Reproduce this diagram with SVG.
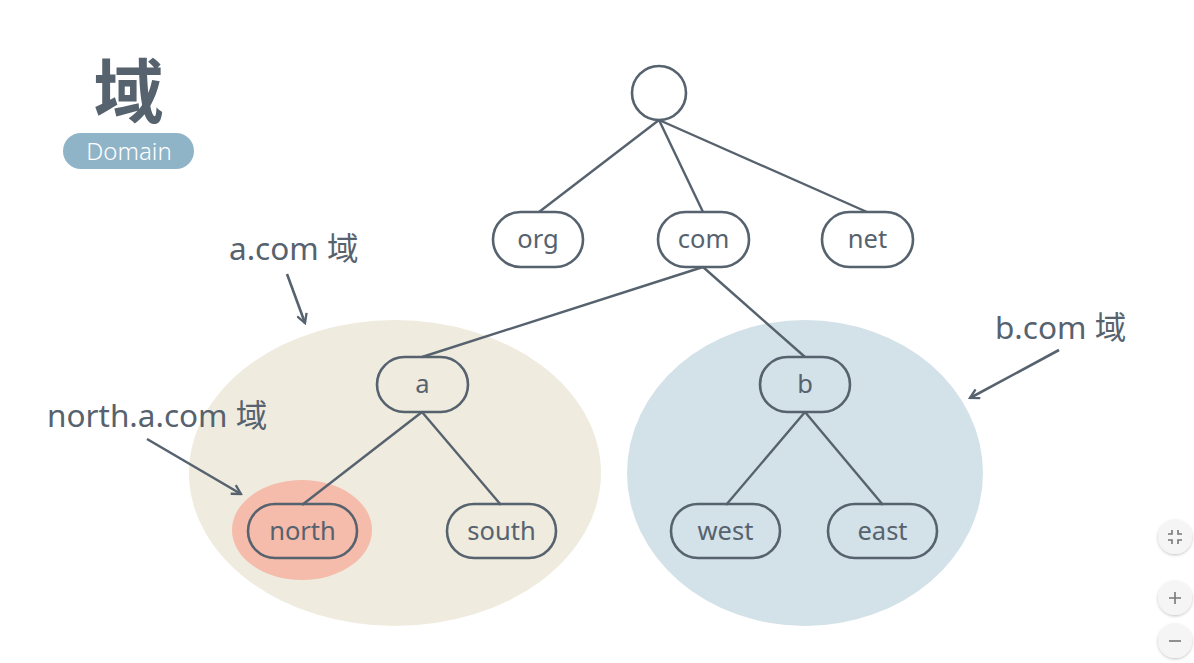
<svg xmlns="http://www.w3.org/2000/svg" width="1194" height="663" viewBox="0 0 1194 663">
  <defs>
    <style>
      .node { fill: none; stroke: #56626e; stroke-width: 2.6; }
      .lbl { font-family: "Noto Sans", "Noto Sans CJK SC", sans-serif; font-size: 25.5px; fill: #56626e; text-anchor: middle; }
      .note { font-family: "Noto Sans", "Noto Sans CJK SC", sans-serif; font-size: 31.5px; fill: #56626e; }
      .edge { stroke: #56626e; stroke-width: 2.4; fill: none; }
      .arrow { stroke: #56626e; stroke-width: 2.6; fill: none; marker-end: url(#vhead); }
      .btn { fill: #f5f5f5; filter: url(#sh); }
      .ico { stroke: #777; stroke-width: 1.6; fill: none; }
    </style>
    <marker id="vhead" viewBox="0 0 12 12" refX="10" refY="6" markerWidth="12" markerHeight="12" markerUnits="userSpaceOnUse" orient="auto">
      <polyline points="1,1 10,6 1,11" fill="none" stroke="#56626e" stroke-width="2.3"/>
    </marker>
    <filter id="sh" x="-50%" y="-50%" width="200%" height="200%">
      <feDropShadow dx="0" dy="1" stdDeviation="1.5" flood-color="#000" flood-opacity="0.25"/>
    </filter>
  </defs>
  <rect width="1194" height="663" fill="#ffffff"/>

  <g id="title">
    <text x="128.5" y="118" font-family="Noto Sans CJK SC, sans-serif" font-size="70" font-weight="bold" fill="#56626e" text-anchor="middle">域</text>
    <rect x="63" y="133" width="131" height="36" rx="18" fill="#8fb3c7"/>
    <text x="129" y="160" font-family="Noto Sans, sans-serif" font-size="24" font-weight="300" fill="#ffffff" text-anchor="middle">Domain</text>
  </g>

  <g id="regions">
    <ellipse id="region-a" cx="395" cy="473" rx="206" ry="153" fill="#efebdf"/>
    <ellipse id="region-b" cx="805" cy="473" rx="178" ry="153" fill="#d3e1e8"/>
    <ellipse id="region-north" cx="302" cy="530" rx="70" ry="50" fill="#f5bbab"/>
  </g>

  <g id="connectors">
    <line class="edge" x1="659" y1="120" x2="539" y2="212"/>
    <line class="edge" x1="659" y1="120" x2="703" y2="212"/>
    <line class="edge" x1="659" y1="120" x2="867" y2="212"/>
    <line class="edge" x1="703" y1="267" x2="422" y2="357"/>
    <line class="edge" x1="703" y1="267" x2="805" y2="357"/>
    <line class="edge" x1="422" y1="412" x2="302" y2="505"/>
    <line class="edge" x1="422" y1="412" x2="501" y2="505"/>
    <line class="edge" x1="805" y1="412" x2="726" y2="505"/>
    <line class="edge" x1="805" y1="412" x2="883" y2="505"/>
    <line class="arrow" x1="287" y1="274" x2="305" y2="323"/>
    <line class="arrow" x1="1059" y1="350" x2="970" y2="398"/>
    <line class="arrow" x1="147" y1="439" x2="241" y2="494"/>
  </g>

  <g id="root"><circle class="node" cx="659" cy="93" r="27"/></g>
  <g id="org"><rect class="node" x="493" y="212" width="90" height="55" rx="27.5"/><text class="lbl" x="538" y="248">org</text></g>
  <g id="com"><rect class="node" x="658" y="212" width="91" height="55" rx="27.5"/><text class="lbl" x="703.5" y="248">com</text></g>
  <g id="net"><rect class="node" x="822" y="212" width="91" height="55" rx="27.5"/><text class="lbl" x="867.5" y="248">net</text></g>
  <g id="a"><rect class="node" x="377" y="357" width="91" height="55" rx="27.5"/><text class="lbl" x="422.5" y="393">a</text></g>
  <g id="b"><rect class="node" x="760" y="357" width="90" height="55" rx="27.5"/><text class="lbl" x="805" y="393">b</text></g>
  <g id="north"><rect class="node" x="248" y="504" width="109" height="54" rx="27"/><text class="lbl" x="302.5" y="540">north</text></g>
  <g id="south"><rect class="node" x="447" y="504" width="109" height="54" rx="27"/><text class="lbl" x="501.5" y="540">south</text></g>
  <g id="west"><rect class="node" x="671" y="504" width="109" height="54" rx="27"/><text class="lbl" x="725.5" y="540">west</text></g>
  <g id="east"><rect class="node" x="828" y="504" width="109" height="54" rx="27"/><text class="lbl" x="882.5" y="540">east</text></g>

  <g id="labels">
    <text class="note" x="229" y="260">a.com 域</text>
    <text class="note" x="995" y="339">b.com 域</text>
    <text class="note" x="47" y="427">north.a.com 域</text>
  </g>

  <g id="controls">
    <circle class="btn" cx="1175" cy="537" r="17"/>
    <path class="ico" d="M1168,534 h4 v-4 M1182,534 h-4 v-4 M1168,540 h4 v4 M1182,540 h-4 v4"/>
    <circle class="btn" cx="1175" cy="598" r="17"/>
    <path class="ico" d="M1169,598 h12 M1175,592 v12"/>
    <circle class="btn" cx="1175" cy="641" r="17"/>
    <path class="ico" d="M1169,641 h12"/>
  </g>
</svg>
